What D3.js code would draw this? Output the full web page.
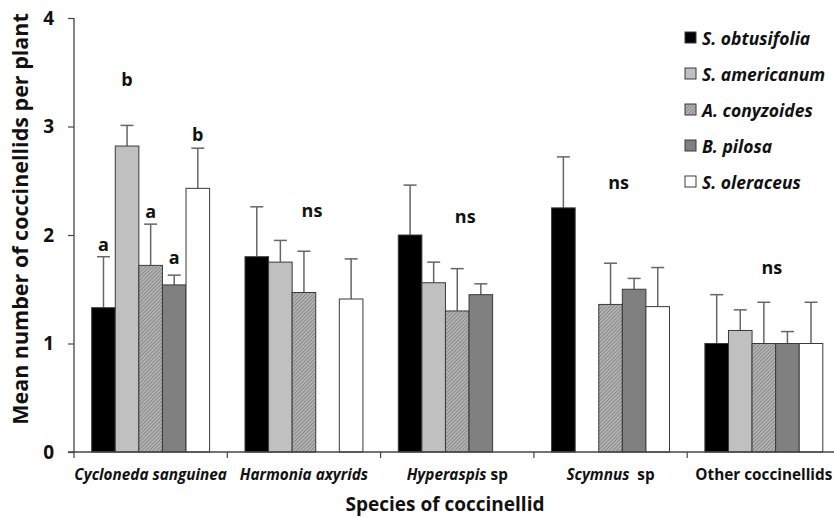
<!DOCTYPE html>
<html><head><meta charset="utf-8">
<script src="https://cdn.jsdelivr.net/npm/d3@7"></script>
<style>
html,body{margin:0;padding:0;background:#fff;}
svg{display:block;font-family:"Open Sans","DejaVu Sans",sans-serif;}
</style></head>
<body><svg id="chart" width="834" height="517"></svg>
<script>
// ---- data ----
const categories = ["Cycloneda sanguinea","Harmonia axyrids","Hyperaspis sp","Scymnus sp","Other coccinellids"];
const seriesNames = ["S. obtusifolia","S. americanum","A. conyzoides","B. pilosa","S. oleraceus"];
// means per series (one value per category)
const sObtusifolia = [1.33, 1.80, 2.00, 2.25, 1.00];
const sAmericanum  = [2.82, 1.75, 1.56, 0,    1.12];
const aConyzoides  = [1.72, 1.47, 1.30, 1.36, 1.00];
const bPilosa      = [1.54, 0,    1.45, 1.50, 1.00];
const sOleraceus   = [2.43, 1.41, 0,    1.34, 1.00];
// upper end of error bars
const errObtusifolia = [1.80, 2.26, 2.46, 2.72, 1.45];
const errAmericanum  = [3.01, 1.95, 1.75, null, 1.31];
const errConyzoides  = [2.10, 1.85, 1.69, 1.74, 1.38];
const errPilosa      = [1.63, null, 1.55, 1.60, 1.11];
const errOleraceus   = [2.80, 1.78, null, 1.70, 1.38];
const yTicks = [0,1,2,3,4];
// significance letters: category index, series index (or null = group), label, value level
const letters = [
  {c:0, s:0, t:"a",  v:1.85},
  {c:0, s:1, t:"b",  v:3.37},
  {c:0, s:2, t:"a",  v:2.16},
  {c:0, s:3, t:"a",  v:1.73},
  {c:0, s:4, t:"b",  v:2.87},
  {c:1, s:null, t:"ns", v:2.17},
  {c:2, s:null, t:"ns", v:2.11},
  {c:3, s:null, t:"ns", v:2.42},
  {c:4, s:null, t:"ns", v:1.64}
];

const means = [sObtusifolia, sAmericanum, aConyzoides, bPilosa, sOleraceus];
const errs  = [errObtusifolia, errAmericanum, errConyzoides, errPilosa, errOleraceus];
const fills = ["#000000","#c0c0c0","url(#hatch)","#808080","#ffffff"];

const svg = d3.select("#chart");
const defs = svg.append("defs");
const pat = defs.append("pattern").attr("id","hatch").attr("patternUnits","userSpaceOnUse")
  .attr("width",2.6).attr("height",2.6).attr("patternTransform","rotate(45)");
pat.append("rect").attr("width",2.6).attr("height",2.6).attr("fill","#b4b4b4");
pat.append("line").attr("x1",0).attr("y1",0).attr("x2",0).attr("y2",2.6)
  .attr("stroke","#6e6e6e").attr("stroke-width",1.2);

const x0 = d3.scaleBand().domain(d3.range(categories.length)).range([74, 840.5]).paddingInner(0).paddingOuter(0);
const x1 = d3.scaleBand().domain(d3.range(seriesNames.length)).range([0, x0.bandwidth()]).paddingOuter(0.75).paddingInner(0);
const y = d3.scaleLinear().domain([0,4]).range([452,18]);

// bars
const rows = [];
categories.forEach((c,ci)=>seriesNames.forEach((s,si)=>rows.push({ci,si,v:means[si][ci],e:errs[si][ci]})));

// error bars (behind bars)
const eg = svg.append("g");
rows.filter(d=>d.v>0 && d.e!=null).forEach(d=>{
  const cx = x0(d.ci)+x1(d.si)+x1.bandwidth()/2;
  eg.append("line").attr("x1",cx).attr("x2",cx).attr("y1",y(d.v)).attr("y2",y(d.e))
    .attr("stroke","#666").attr("stroke-width",1.5);
  eg.append("line").attr("x1",cx-6.5).attr("x2",cx+6.5).attr("y1",y(d.e)).attr("y2",y(d.e))
    .attr("stroke","#666").attr("stroke-width",1.5);
});

svg.append("g").selectAll("rect").data(rows.filter(d=>d.v>0)).join("rect")
  .attr("x",d=>x0(d.ci)+x1(d.si))
  .attr("y",d=>y(d.v))
  .attr("width",x1.bandwidth())
  .attr("height",d=>y(0)-y(d.v))
  .attr("fill",d=>fills[d.si])
  .attr("stroke","#3a3a3a").attr("stroke-width",1);

// axes
const yAxis = svg.append("g").attr("transform","translate(74,0)")
  .call(d3.axisLeft(y).tickValues(yTicks).tickSize(6).tickPadding(14).tickFormat(d3.format("d")));
yAxis.select(".domain").attr("stroke","#444").attr("stroke-width",1.3).attr("d","M0,18V452");
yAxis.selectAll(".tick line").attr("stroke","#444").attr("stroke-width",1.2);
yAxis.selectAll(".tick text").attr("font-size",19).attr("font-weight","bold").attr("fill","#111")
  .attr("font-family","'Open Sans',sans-serif");

const xBounds = d3.range(categories.length+1).map(i=> i<categories.length ? x0(i) : x0(i-1)+x0.bandwidth());
const xg = svg.append("g");
xg.append("line").attr("x1",68).attr("x2",834).attr("y1",y(0)).attr("y2",y(0)).attr("stroke","#444").attr("stroke-width",1.3);
xg.selectAll("line.t").data(xBounds.filter(v=>v<834)).join("line").attr("class","t")
  .attr("x1",d=>d).attr("x2",d=>d).attr("y1",y(0)).attr("y2",y(0)+6).attr("stroke","#444").attr("stroke-width",1.2);

// category labels
const catParts = [
  [["Cycloneda sanguinea","italic"]],
  [["Harmonia axyrids","italic"]],
  [["Hyperaspis","italic"],[" sp","normal"]],
  [["Scymnus","italic"],["  sp","normal"]],
  [["Other coccinellids","normal"]]
];
categories.forEach((c,ci)=>{
  const t = xg.append("text").attr("x",x0(ci)+x0.bandwidth()/2).attr("y",480)
    .attr("text-anchor","middle").attr("font-size",15.3).attr("font-weight","bold").attr("fill","#111")
    .attr("xml:space","preserve");
  catParts[ci].forEach(p=>t.append("tspan").attr("font-style",p[1]).text(p[0]));
});

// axis titles
svg.append("text").attr("x",445).attr("y",511).attr("text-anchor","middle")
  .attr("font-size",19).attr("font-weight","bold").attr("fill","#111").text("Species of coccinellid");
svg.append("text").attr("transform","translate(28,219) rotate(-90)").attr("text-anchor","middle")
  .attr("font-size",21.5).attr("font-weight","bold").attr("fill","#111").text("Mean number of coccinellids per plant");

// letters
letters.forEach(l=>{
  const cx = l.s==null ? x0(l.c)+x0.bandwidth()/2+8 : x0(l.c)+x1(l.s)+x1.bandwidth()/2;
  svg.append("text").attr("x",cx).attr("y",y(l.v)).attr("text-anchor","middle")
    .attr("font-size",18).attr("font-weight","bold").attr("fill","#111").text(l.t);
});

// legend
const lg = svg.append("g");
seriesNames.forEach((s,i)=>{
  const yy = 32 + i*36;
  lg.append("rect").attr("x",685).attr("y",yy).attr("width",11).attr("height",11)
    .attr("fill",fills[i]).attr("stroke","#3a3a3a").attr("stroke-width",1);
  lg.append("text").attr("x",702).attr("y",yy+12.5).attr("font-size",17.5).attr("font-weight","bold")
    .attr("font-style","italic").attr("fill","#111").text(s);
});
</script>
</body></html>
